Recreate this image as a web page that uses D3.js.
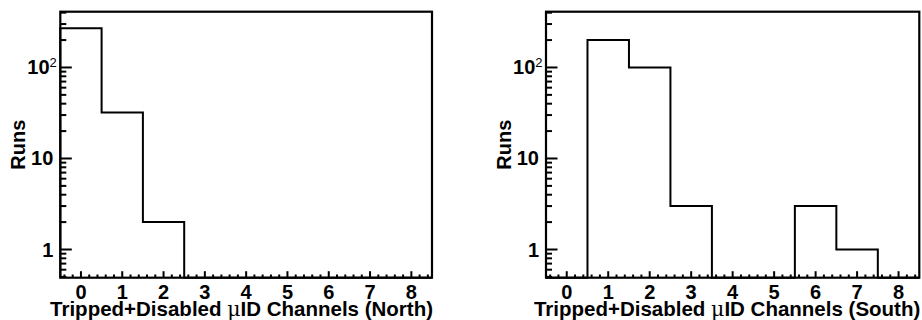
<!DOCTYPE html>
<html><head><meta charset="utf-8">
<script src="https://cdn.jsdelivr.net/npm/d3@7"></script>
<style>
html,body{margin:0;padding:0;background:#fff;}
text{font-family:"Liberation Sans",Arial,Helvetica,sans-serif;font-weight:bold;fill:#000;}
</style></head>
<body><svg id="c" width="922" height="320"></svg>
<script>
// Data
const bins = [0,1,2,3,4,5,6,7,8];
const northRuns = [270, 32, 2, 0, 0, 0, 0, 0, 0];
const southRuns = [0, 200, 100, 3, 0, 0, 3, 1, 0];
const xTicks = [0,1,2,3,4,5,6,7,8];
const yTicks = [1, 10, 100];
const yTickLabels = ["1", "10", "10|2"];
const titleNorth = "(North)";
const titleSouth = "(South)";
const yTitle = "Runs";

const svg = d3.select("#c");
const H = {top: 11.7, bottom: 277.7};
const yMin = 0.49, yMax = 410;

function panel(left, right, values, suffix) {
  const g = svg.append("g");
  const x = d3.scaleLinear().domain([-0.5, 8.5]).range([left, right]);
  const y = d3.scaleLog().domain([yMin, yMax]).range([H.bottom, H.top]);

  // histogram outline
  let pts = [];
  const clampV = v => Math.max(v, yMin);
  bins.forEach((b, i) => {
    pts.push([x(b - 0.5), y(clampV(values[i]))]);
    pts.push([x(b + 0.5), y(clampV(values[i]))]);
  });
  pts.unshift([x(bins[0] - 0.5), y(yMin)]);
  pts.push([x(bins[bins.length - 1] + 0.5), y(yMin)]);
  g.append("path").attr("d", d3.line()(pts))
    .attr("fill", "none").attr("stroke", "#000").attr("stroke-width", 2);

  // frame
  g.append("rect").attr("x", left).attr("y", H.top)
    .attr("width", right - left).attr("height", H.bottom - H.top)
    .attr("fill", "none").attr("stroke", "#000").attr("stroke-width", 2.2);

  // x ticks
  const xMinor = d3.range(-0.4, 8.5, 0.2).filter(v => Math.abs(v - Math.round(v)) > 0.01);
  g.selectAll(".xmin").data(xMinor).enter().append("line")
    .attr("x1", d => x(d)).attr("x2", d => x(d))
    .attr("y1", H.bottom).attr("y2", H.bottom - 3.2)
    .attr("stroke", "#000").attr("stroke-width", 2);
  g.selectAll(".xmaj").data(xTicks).enter().append("line")
    .attr("x1", d => x(d)).attr("x2", d => x(d))
    .attr("y1", H.bottom).attr("y2", H.bottom - 6.5)
    .attr("stroke", "#000").attr("stroke-width", 2);
  g.selectAll(".xl").data(xTicks).enter().append("text")
    .attr("x", d => x(d)).attr("y", 299)
    .attr("text-anchor", "middle").attr("font-size", 20)
    .text(d => d);

  // y ticks
  const yMinor = [];
  [0.1, 1, 10, 100].forEach(dec => {
    for (let k = 2; k <= 9; k++) {
      const v = k * dec;
      if (v >= yMin && v <= yMax) yMinor.push(v);
    }
  });
  g.selectAll(".ymin").data(yMinor).enter().append("line")
    .attr("x1", left).attr("x2", left + 6)
    .attr("y1", d => y(d)).attr("y2", d => y(d))
    .attr("stroke", "#000").attr("stroke-width", 2);
  g.selectAll(".ymaj").data(yTicks).enter().append("line")
    .attr("x1", left).attr("x2", left + 11.5)
    .attr("y1", d => y(d)).attr("y2", d => y(d))
    .attr("stroke", "#000").attr("stroke-width", 2);
  yTicks.forEach((t, i) => {
    const parts = yTickLabels[i].split("|");
    const tx = g.append("text")
      .attr("x", parts.length > 1 ? left - 3.5 : left - 7)
      .attr("y", y(t) + 7)
      .attr("text-anchor", "end").attr("font-size", 20);
    tx.append("tspan").text(parts[0]);
    if (parts.length > 1) {
      tx.append("tspan").attr("dy", -7.5).attr("font-size", 13)
        .attr("font-weight", "normal").text(parts[1]);
    }
  });

  // y title
  g.append("text")
    .attr("transform", `translate(${left - 35},${(H.top + H.bottom) / 2}) rotate(-90)`)
    .attr("text-anchor", "middle").attr("font-size", 20).text(yTitle);

  // x title
  const xt = g.append("text").attr("x", right + 1).attr("y", 316)
    .attr("text-anchor", "end").attr("font-size", 20.5);
  xt.append("tspan").text("Tripped+Disabled ");
  xt.append("tspan").attr("font-weight", "normal").attr("font-family", "'DejaVu Serif',serif").text("\u03bc");
  xt.append("tspan").text("ID Channels " + suffix);
}

panel(60.3, 432, northRuns, titleNorth);
panel(546, 919.3, southRuns, titleSouth);
</script>
</body></html>
